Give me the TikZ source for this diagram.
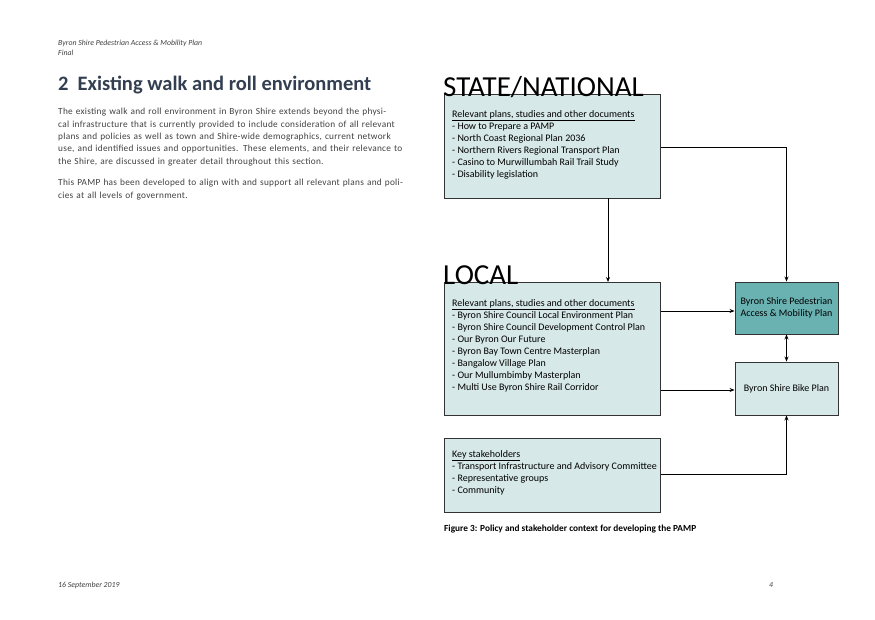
\documentclass[tikz,border=0pt]{standalone}
\usepackage{fontspec}
\setmainfont{Carlito}
\usetikzlibrary{arrows.meta}
\definecolor{lightbox}{HTML}{D6E8E7}
\definecolor{darkbox}{HTML}{6AB2B2}
\definecolor{titlec}{HTML}{333F50}
\definecolor{bodyc}{HTML}{404040}
\newcommand{\ulx}[1]{\underline{#1}}
\tikzset{
 box/.style={draw=black!80, line width=0.9pt, fill=lightbox, anchor=north west, inner sep=0pt},
 lst/.style={anchor=north west, align=left, font=\fontsize{10}{12}\selectfont, inner sep=0pt},
 arr/.style={-{Stealth[length=5pt,width=4pt]}, line width=0.8pt},
 darr/.style={{Stealth[length=5pt,width=4pt]}-{Stealth[length=5pt,width=4pt]}, line width=0.8pt},
 hdr/.style={anchor=base west, inner sep=0pt, font=\fontsize{7.8}{8}\selectfont\itshape, text=bodyc},
 body/.style={anchor=north west, inner sep=0pt, align=left, text width=345pt, font=\fontsize{9.3}{12.4}\selectfont\addfontfeatures{LetterSpace=3}, text=bodyc},
 big/.style={anchor=base west, inner sep=0pt, font=\fontsize{29}{29}\selectfont}
}
\begin{document}
\begin{tikzpicture}[x=1pt,y=-1pt]
\useasboundingbox (0,0) rectangle (875,619);
\node[hdr] (h1) at (58,45) {Byron Shire Pedestrian Access \& Mobility Plan};
\node[hdr] (h2) at (58,55) {Final};
\node[anchor=base west, inner sep=0pt, font=\fontsize{20.5}{22}\selectfont\bfseries, text=titlec] (title) at (58,90) {2\hspace{9pt}Existing walk and roll environment};
\node[body] (p1) at (58,108) {The existing walk and roll environment in Byron Shire extends beyond the physical infrastructure that is currently provided to include consideration of all relevant plans and policies as well as town and Shire-wide demographics, current network use, and identified issues and opportunities. These elements, and their relevance to the Shire, are discussed in greater detail throughout this section.};
\node[body] (p2) at (58,179) {This PAMP has been developed to align with and support all relevant plans and policies at all levels of government.};

\node[box, minimum width=216pt, minimum height=104pt] (state) at (444,94) {};
\node[box, minimum width=216pt, minimum height=133pt] (local) at (444,282) {};
\node[box, minimum width=216pt, minimum height=74pt] (key) at (444,438) {};
\node[box, fill=darkbox, minimum width=103pt, minimum height=52pt, anchor=center, align=center, font=\fontsize{10}{12}\selectfont] (pamp) at (786.5,308) {Byron Shire Pedestrian\\Access \& Mobility Plan};
\node[box, minimum width=103pt, minimum height=53pt, anchor=center, font=\fontsize{10}{12}\selectfont] (bike) at (786.5,388.5) {Byron Shire Bike Plan};

\node[big] (stt) at (443,96) {STATE/NATIONAL};
\node[big] (loct) at (443,284) {LOCAL};

\node[lst] (sl) at (452,110) {\ulx{Relevant plans, studies and other documents}\\- How to Prepare a PAMP\\- North Coast Regional Plan 2036\\- Northern Rivers Regional Transport Plan\\- Casino to Murwillumbah Rail Trail Study\\- Disability legislation};
\node[lst] (ll) at (452,299) {\ulx{Relevant plans, studies and other documents}\\- Byron Shire Council Local Environment Plan\\- Byron Shire Council Development Control Plan\\- Our Byron Our Future\\- Byron Bay Town Centre Masterplan\\- Bangalow Village Plan\\- Our Mullumbimby Masterplan\\- Multi Use Byron Shire Rail Corridor};
\node[lst] (kl) at (452,450) {\ulx{Key stakeholders}\\- Transport Infrastructure and Advisory Committee\\- Representative groups\\- Community};

\coordinate (s1) at (608,198);
\coordinate (s2) at (608,282);
\draw[arr] (s1) -- (s2);
\draw[arr] (state.east |- 0,147) -| (pamp.north);
\draw[arr] (local.east |- 0,311) -- (pamp.west |- 0,311);
\draw[arr] (local.east |- 0,390) -- (bike.west |- 0,390);
\draw[darr] (pamp.south) -- (bike.north);
\draw[arr] (key.east |- 0,474) -| (bike.south);

\node[anchor=base west, inner sep=0pt, font=\fontsize{9.3}{10}\selectfont\bfseries] (cap) at (444,531) {Figure 3: Policy and stakeholder context for developing the PAMP};
\node[hdr] (f1) at (58,587) {16 September 2019};
\node[hdr] (f2) at (769,587) {4};
\end{tikzpicture}
\end{document}
